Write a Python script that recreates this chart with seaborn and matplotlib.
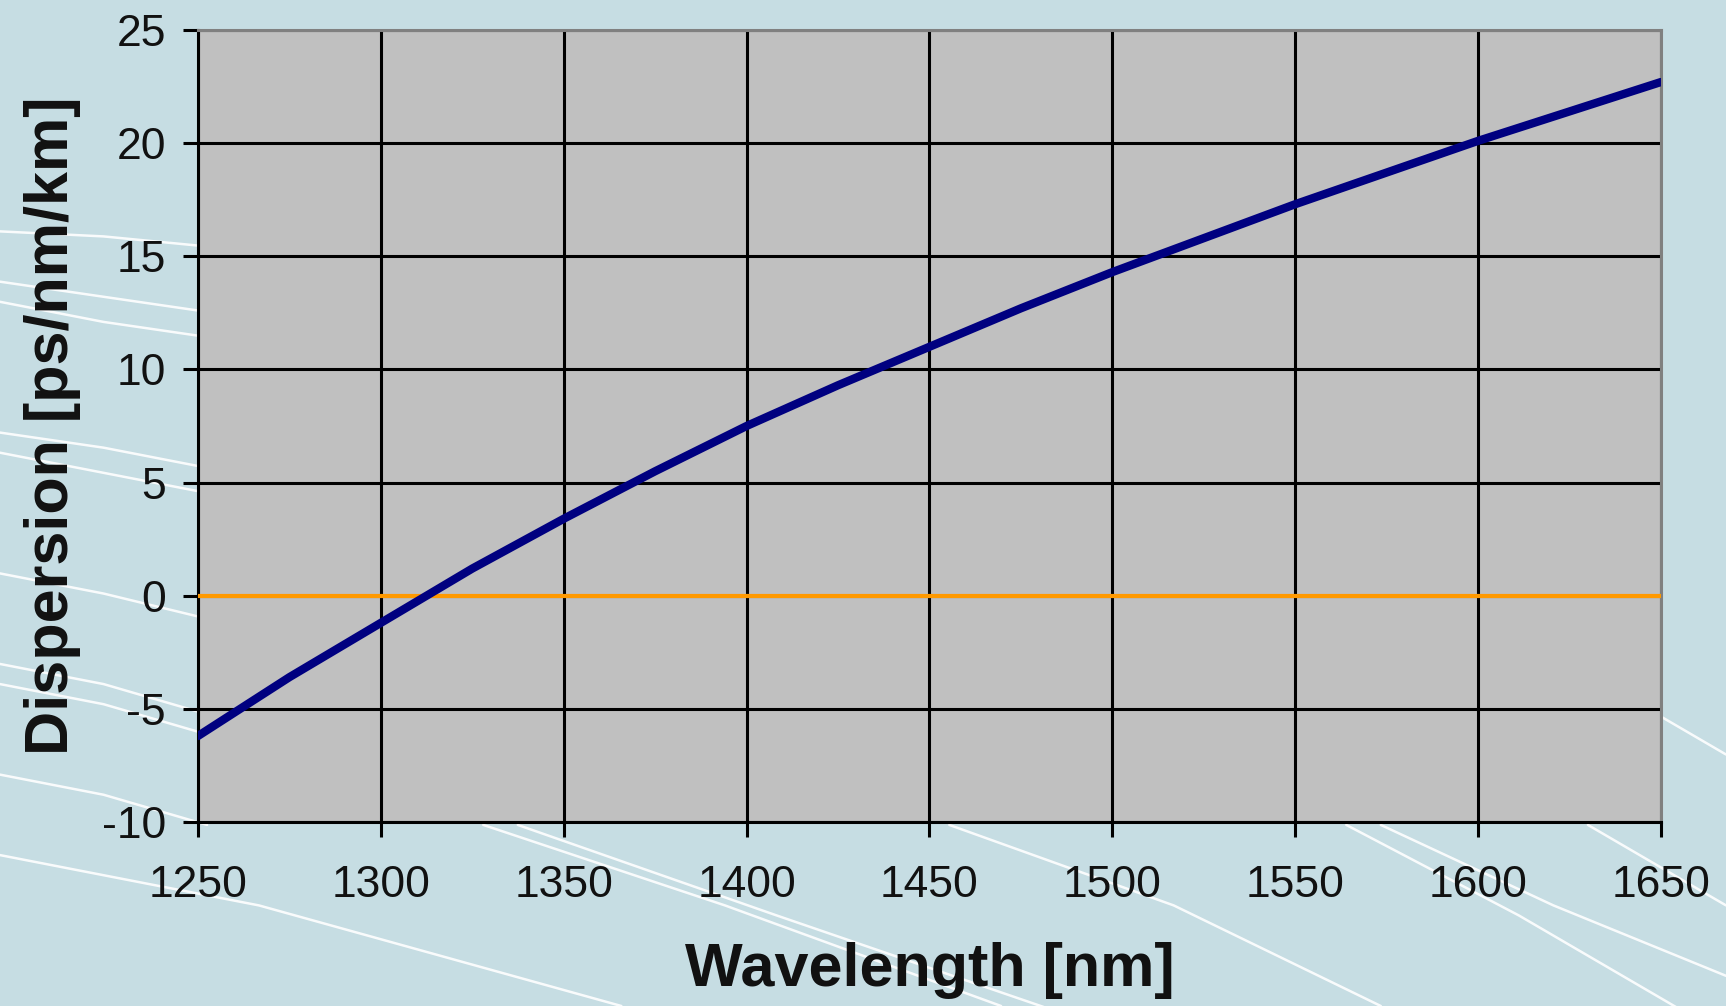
import numpy as np
import pandas as pd
import matplotlib
matplotlib.use("Agg")
import matplotlib.pyplot as plt
from matplotlib.lines import Line2D
import seaborn as sns

# values
wavelength = [1250, 1275, 1300, 1325, 1350, 1375, 1400, 1425, 1450,
              1475, 1500, 1525, 1550, 1575, 1600, 1625, 1650]
dispersion = [-6.2, -3.6, -1.2, 1.2, 3.4, 5.5, 7.5, 9.3, 11.0,
              12.7, 14.3, 15.8, 17.3, 18.7, 20.1, 21.4, 22.7]
x_ticks = [1250, 1300, 1350, 1400, 1450, 1500, 1550, 1600, 1650]
y_ticks = [-10, -5, 0, 5, 10, 15, 20, 25]

df = pd.DataFrame({"Wavelength": wavelength, "Dispersion": dispersion})

sns.set_theme(style="white")
plt.rcParams['font.family'] = ['Liberation Sans', 'DejaVu Sans']
plt.rcParams['axes.unicode_minus'] = False

bg = '#c6dde3'
fig = plt.figure(figsize=(17.26, 10.06), dpi=100, facecolor=bg)

# decorative white streaks of the slide background
streaks = [
    ([0.0, 0.06, 0.12], [0.77, 0.765, 0.755]),
    ([0.0, 0.06, 0.12], [0.72, 0.705, 0.69]),
    ([0.0, 0.06, 0.12], [0.70, 0.68, 0.665]),
    ([0.0, 0.06, 0.12], [0.57, 0.555, 0.535]),
    ([0.0, 0.06, 0.12], [0.55, 0.53, 0.51]),
    ([0.0, 0.06, 0.12], [0.43, 0.41, 0.385]),
    ([0.0, 0.06, 0.12], [0.34, 0.32, 0.29]),
    ([0.0, 0.06, 0.12], [0.32, 0.30, 0.27]),
    ([0.0, 0.06, 0.12], [0.23, 0.21, 0.18]),
    ([0.0, 0.15, 0.36], [0.15, 0.10, 0.0]),
    ([0.28, 0.42, 0.58], [0.18, 0.10, 0.0]),
    ([0.30, 0.45, 0.62], [0.18, 0.09, -0.01]),
    ([0.55, 0.68, 0.80], [0.18, 0.10, 0.0]),
    ([0.78, 0.88, 0.99], [0.18, 0.09, -0.02]),
    ([0.80, 0.90, 1.0], [0.18, 0.10, 0.03]),
    ([0.92, 0.97, 1.0], [0.18, 0.13, 0.10]),
    ([0.96, 1.0], [0.29, 0.25]),
]
for xs, ys in streaks:
    fig.add_artist(Line2D(xs, ys, transform=fig.transFigure, color='white',
                          lw=1.8, alpha=0.9, zorder=0))

ax = fig.add_axes([0.1147, 0.1829, 0.8476, 0.7873])
ax.set_facecolor('#c0c0c0')

sns.lineplot(data=df, x="Wavelength", y="Dispersion", ax=ax,
             color='#000080', lw=6, zorder=4)
ax.axhline(0, color='#ff9900', lw=3, zorder=3)

ax.set_xlim(1250, 1650)
ax.set_ylim(-10, 25)
ax.set_xticks(x_ticks)
ax.set_yticks(y_ticks)
ax.grid(True, color='black', lw=2.2, zorder=1)
ax.set_axisbelow(True)

for side in ['left', 'bottom']:
    ax.spines[side].set_color('black')
    ax.spines[side].set_linewidth(2.2)
for side in ['top', 'right']:
    ax.spines[side].set_color('#808080')
    ax.spines[side].set_linewidth(2.2)

ax.tick_params(axis='both', direction='out', length=11, width=2.2,
               color='black', labelsize=32, labelcolor='#111111')
ax.tick_params(axis='x', pad=20, bottom=True)
ax.tick_params(axis='y', pad=12, left=True)

ax.set_xlabel("Wavelength [nm]", fontsize=44, fontweight='bold',
              labelpad=26, color='#111111')
ax.set_ylabel("Dispersion [ps/nm/km]", fontsize=44, fontweight='bold',
              labelpad=15, color='#111111')

fig.savefig("out.png", dpi=100, facecolor=bg)
